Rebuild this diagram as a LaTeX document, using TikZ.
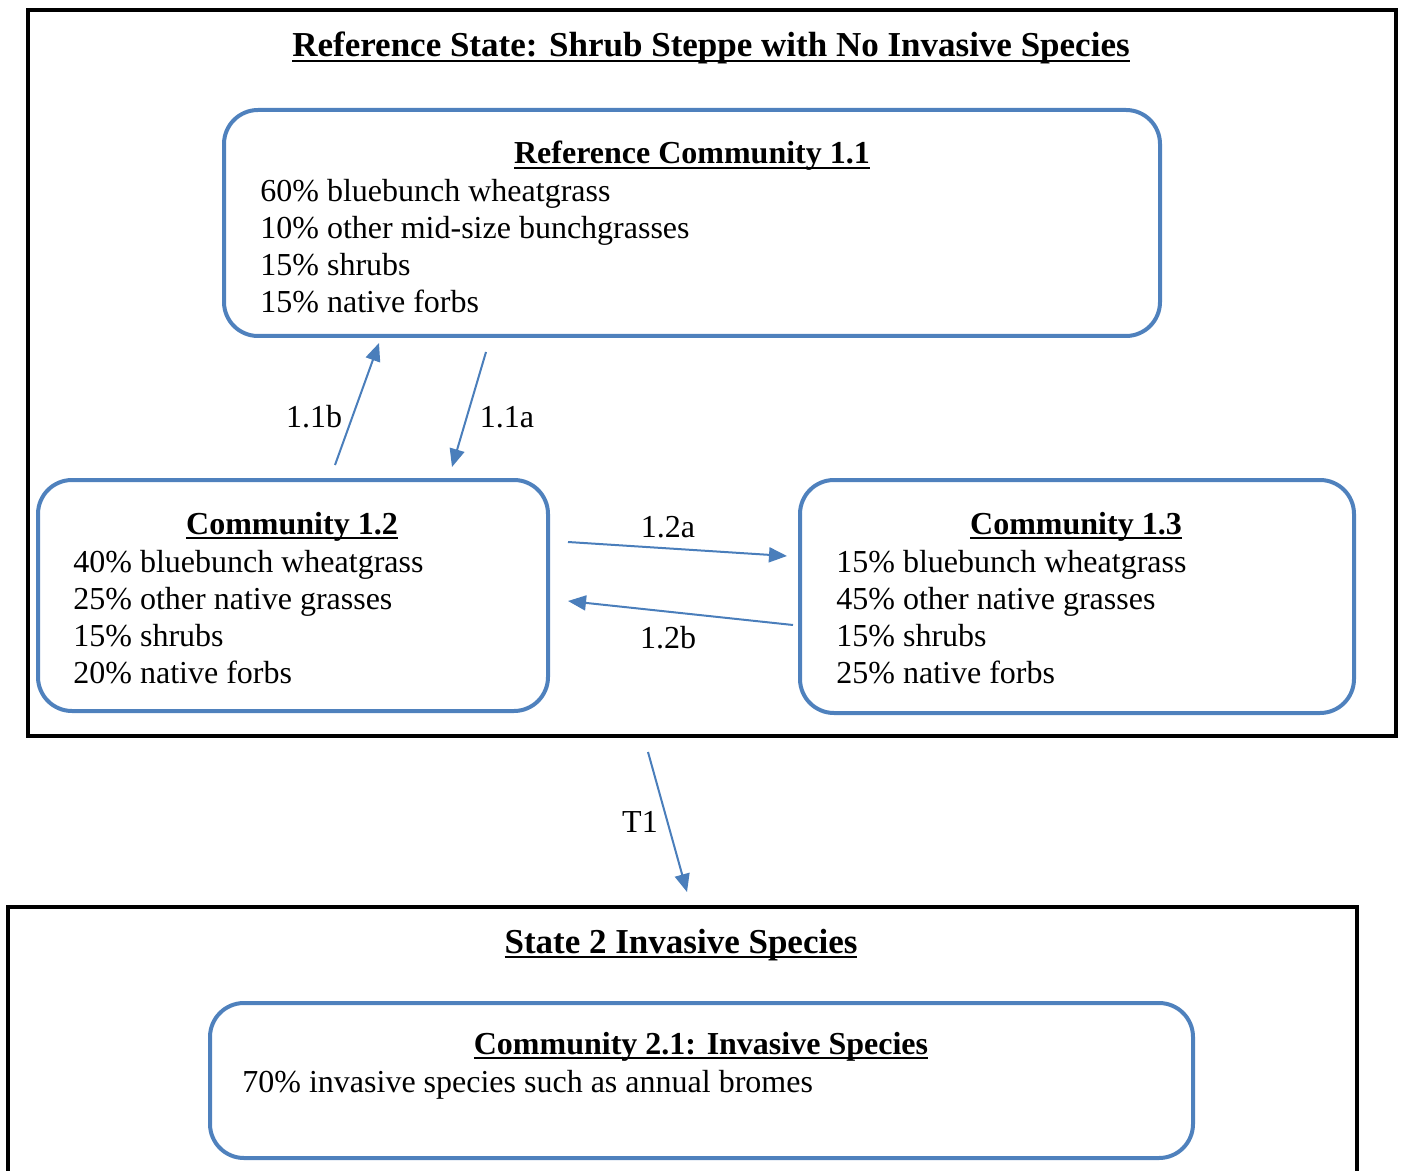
\documentclass[tikz,border=0pt]{standalone}
\usepackage{fontspec}
\setmainfont{Liberation Serif}
\usetikzlibrary{calc,arrows.meta}

\definecolor{boxblue}{RGB}{79,129,189}
\definecolor{arrowblue}{RGB}{74,126,187}

% thick underline close to the baseline
\newcommand{\ulhead}[1]{\setbox0\hbox{#1}\leavevmode\rlap{\copy0}\rule[-2.4pt]{\wd0}{1pt}}

\begin{document}
\begin{tikzpicture}[x=0.5pt, y=-0.5pt, font=\fontsize{16}{18.5}\selectfont,
    statebox/.style={draw=black, line width=2pt, inner sep=0pt},
    commbox/.style={draw=boxblue, line width=2pt, rounded corners=17pt, inner sep=0pt},
    heading/.style={font=\fontsize{16}{18.5}\selectfont\bfseries, inner sep=0pt, anchor=base},
    stateheading/.style={heading, font=\fontsize{17.5}{20}\selectfont\bfseries},
    spcs/.style={align=left, inner sep=0pt, anchor=north west},
    trans/.style={draw=arrowblue, line width=1pt, -{Triangle[length=9pt, width=7.5pt]}},
    tlabel/.style={inner sep=0pt}]
    \useasboundingbox (0,0) rectangle (1402,1171);
    \clip (0,0) rectangle (1402,1171);

    % states
    \node[statebox, minimum width=684pt, minimum height=363pt] (refstate) at (712,373) {};
    \node[statebox, minimum width=674.5pt, minimum height=146.5pt] (state2) at (682.5,1053.5) {};

    \node[stateheading] (refstatetitle) at (711,57) {\ulhead{Reference State: Shrub Steppe with No Invasive Species}};
    \node[stateheading] (state2title) at (681,953) {\ulhead{State 2 Invasive Species}};

    % communities
    \node[commbox, minimum width=468pt, minimum height=113pt] (c11) at (692,223) {};
    \node[commbox, minimum width=255pt, minimum height=115.5pt] (c12) at (293,595.5) {};
    \node[commbox, minimum width=277pt, minimum height=116.5pt] (c13) at (1077,596.5) {};
    \node[commbox, minimum width=491.5pt, minimum height=77.5pt] (c21) at (701.5,1080.5) {};

    \node[heading] (c11title) at (692,164) {\ulhead{Reference Community 1.1}};
    \node[spcs] (c11spp) at (260,179) {60\% bluebunch wheatgrass\\10\% other mid-size bunchgrasses\\15\% shrubs\\15\% native forbs};

    \node[heading] (c12title) at (292,534) {\ulhead{Community 1.2}};
    \node[spcs] (c12spp) at (73,550) {40\% bluebunch wheatgrass\\25\% other native grasses\\15\% shrubs\\20\% native forbs};

    \node[heading] (c13title) at (1076,534) {\ulhead{Community 1.3}};
    \node[spcs] (c13spp) at (836,550) {15\% bluebunch wheatgrass\\45\% other native grasses\\15\% shrubs\\25\% native forbs};

    \node[heading] (c21title) at (701,1054) {\ulhead{Community 2.1: Invasive Species}};
    \node[spcs] (c21spp) at (242,1070) {70\% invasive species such as annual bromes};

    % pathway ends
    \coordinate (p11b0) at (335,465);
    \coordinate (p11b1) at (379,343);
    \coordinate (p11a0) at (486,352);
    \coordinate (p11a1) at (452,467);
    \coordinate (p12a0) at (568,542);
    \coordinate (p12a1) at (787,556);
    \coordinate (p12b0) at (793,625);
    \coordinate (p12b1) at (568,601);
    \coordinate (t10) at (648,752);
    \coordinate (t11) at (687,892);

    \draw[trans] (p11b0) -- (p11b1);
    \draw[trans] (p11a0) -- (p11a1);
    \draw[trans] (p12a0) -- (p12a1);
    \draw[trans] (p12b0) -- (p12b1);
    \draw[trans] (t10) -- (t11);

    \node[tlabel] (l11b) at (314,417) {1.1b};
    \node[tlabel] (l11a) at (507,417) {1.1a};
    \node[tlabel] (l12a) at (668,527) {1.2a};
    \node[tlabel] (l12b) at (668,638) {1.2b};
    \node[tlabel] (lt1) at (640,822) {T1};

\end{tikzpicture}
\end{document}
